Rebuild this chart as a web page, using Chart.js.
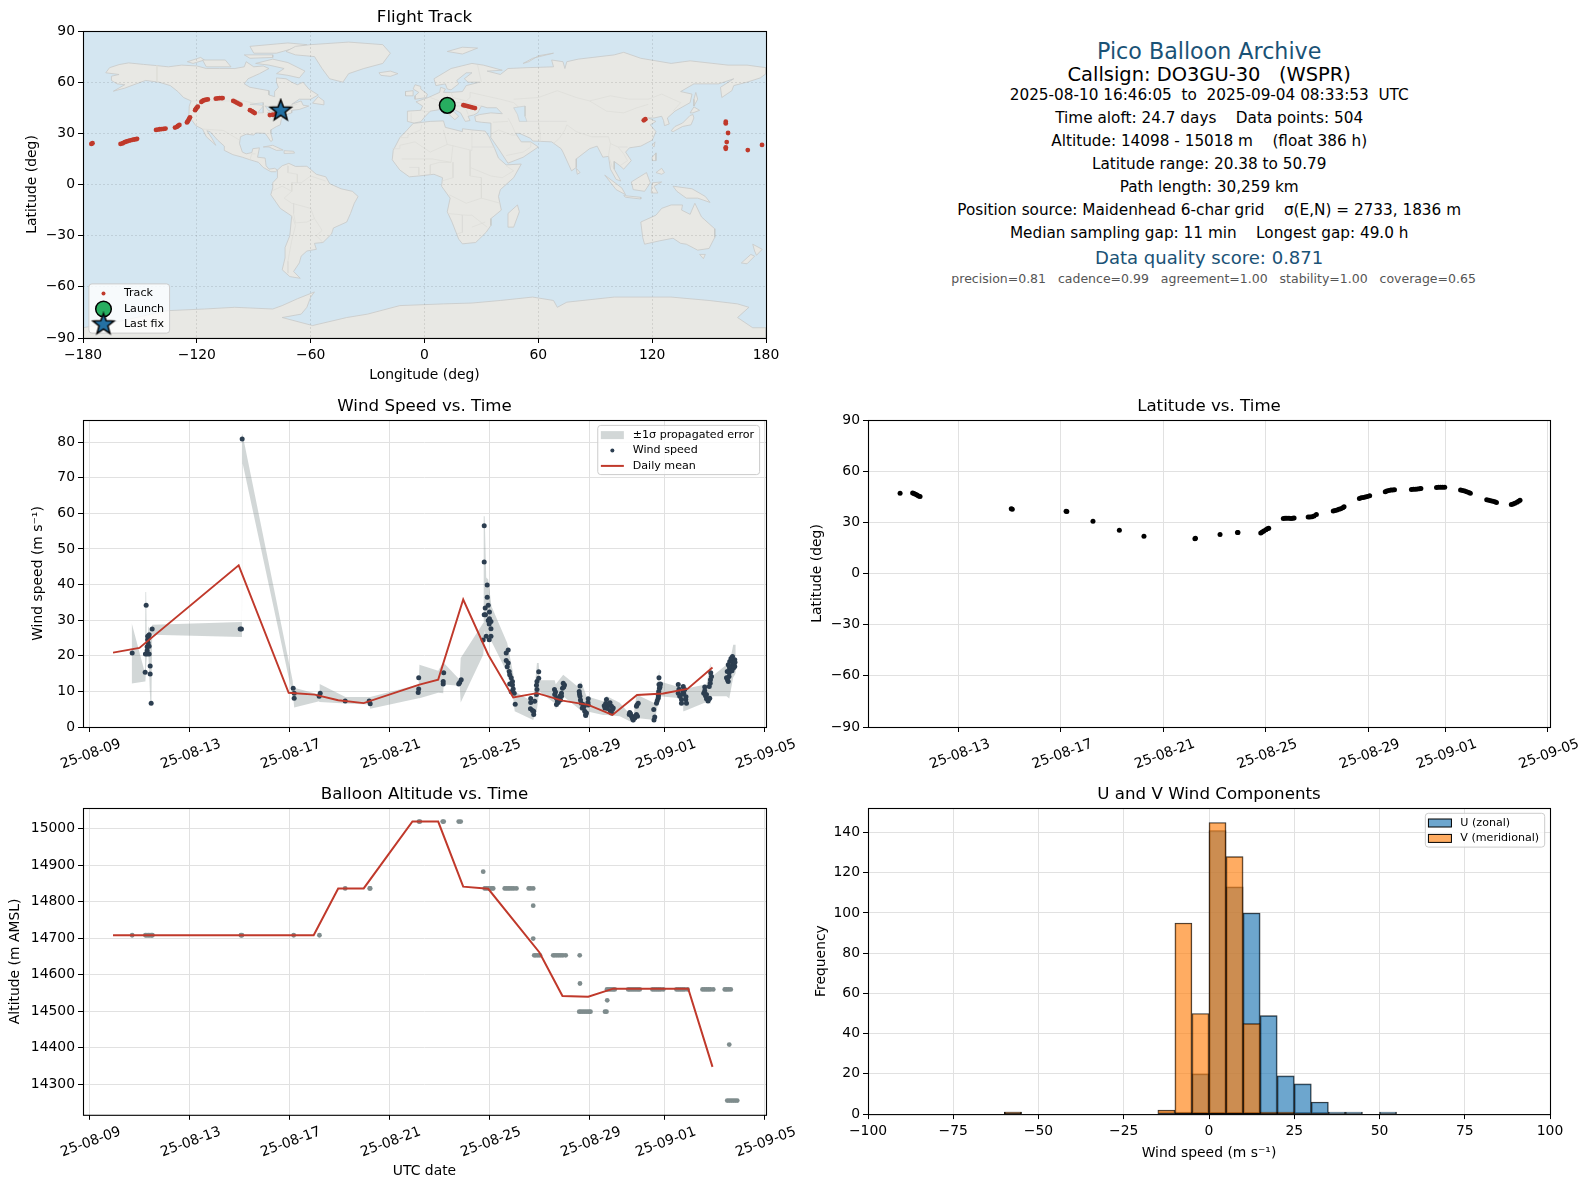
<!DOCTYPE html>
<html>
<head>
<meta charset="utf-8">
<title>Pico Balloon Archive</title>
<script src="https://cdn.jsdelivr.net/npm/chart.js@4"></script>
<style>
  body { margin: 0; background: #fff; width: 1589px; height: 1189px; overflow: hidden; position: relative; font-family: "DejaVu Sans", sans-serif; }
  canvas { position: absolute; }
  .info { position: absolute; left: 1209.2px; transform: translate(-50%, -50%); white-space: pre; color: #000; font-size: 15.28px; }
</style>
</head>
<body>

<canvas id="mapChart"></canvas>
<canvas id="windChart"></canvas>
<canvas id="latChart"></canvas>
<canvas id="altChart"></canvas>
<canvas id="histChart"></canvas>

<div class="info" style="top:51px;font-size:22.2px;color:#1a5276">Pico Balloon Archive</div>
<div class="info" style="top:74px;font-size:19.44px">Callsign: DO3GU-30   (WSPR)</div>
<div class="info" style="top:95px">2025-08-10 16:46:05  to  2025-09-04 08:33:53  UTC</div>
<div class="info" style="top:118px">Time aloft: 24.7 days    Data points: 504</div>
<div class="info" style="top:140.5px">Altitude: 14098 - 15018 m    (float 386 h)</div>
<div class="info" style="top:163.5px">Latitude range: 20.38 to 50.79</div>
<div class="info" style="top:186.7px">Path length: 30,259 km</div>
<div class="info" style="top:210px">Position source: Maidenhead 6-char grid    σ(E,N) = 2733, 1836 m</div>
<div class="info" style="top:233px">Median sampling gap: 11 min    Longest gap: 49.0 h</div>
<div class="info" style="top:257px;font-size:18.06px;color:#1a5276">Data quality score: 0.871</div>
<div class="info" style="top:277.5px;left:1213.6px;font-size:12.5px;color:#555">precision=0.81   cadence=0.99   agreement=1.00   stability=1.00   coverage=0.65</div>

<script>
// ================= TICKS =================
// x axis of the time panels is "days since 25-08-09"
const dateTickDays = [0, 4, 8, 12, 16, 20, 23, 27];
const dateTickLabels = ["25-08-09", "25-08-13", "25-08-17", "25-08-21", "25-08-25", "25-08-29", "25-09-01", "25-09-05"];
const lonTicks = [-180, -120, -60, 0, 60, 120, 180];
const latTicks = [-90, -60, -30, 0, 30, 60, 90];
const windTicks = [0, 10, 20, 30, 40, 50, 60, 70, 80];
const altTicks = [14300, 14400, 14500, 14600, 14700, 14800, 14900, 15000];
const histXTicks = [-100, -75, -50, -25, 0, 25, 50, 75, 100];
const histYTicks = [0, 20, 40, 60, 80, 100, 120, 140];

// ================= TRACK =================
const trackLon = [-175.6, -175, -160.2, -159, -158, -157, -156, -155, -154, -153, -152, -151.5,
  -141.5, -140.5, -139.5, -138.5, -137.5, -136.5, -131.5, -130.5, -130, -129.2,
  -125.2, -124.8, -124.4, -124, -123.6, -120.9, -120.5, -120, -119.5,
  -117.6, -117, -116.2, -115.2, -114.2, -110, -109, -108, -107, -106.4,
  -100.8, -100, -99, -98, -97, -92, -91, -90.2, -89.5, -81.5, -80, -78.5, -77, -76,
  20.5, 21.5, 22.5, 23.5, 24.5, 25.5, 26.6,
  115.6, 116.4, 158.8, 158.8, 160, 159.3, 158.8, 158.8, 170.4, 177.9];
const trackLat = [23.8, 24.2, 23.8, 24.2, 24.8, 25.2, 25.6, 25.9, 26.2, 26.4, 26.6, 26.8,
  32, 32.2, 32.4, 32.5, 32.6, 32.8, 33.4, 33.8, 34.3, 34.9,
  36.4, 37, 37.8, 38.6, 39.4, 43.6, 44.4, 45, 45.6,
  48.4, 49, 49.4, 49.7, 49.9, 50.3, 50.5, 50.6, 50.7, 50.7,
  49, 48.6, 48, 47.4, 46.8, 43.6, 43, 42.4, 41.9, 40.7, 40.9, 41.2, 41.6, 42.2,
  46.5, 46.2, 46, 45.7, 45.4, 45.1, 44.8,
  37.6, 38.3, 36.8, 35.8, 30.2, 24.9, 21.8, 20.9, 20.2, 23.2];
const launchLon = [12];
const launchLat = [46.4];
const lastFixLon = [-75.8];
const lastFixLat = [43.3];

// ================= LAND OUTLINES (lon, lat) =================
const northAmerica = [[-168,65.5],[-166,68.5],[-161,70.3],[-156,71.3],[-148,70.4],[-141,69.7],[-135,69],[-128,70],[-120,69.5],[-115,68],[-108,68],[-100,68],[-95,69],[-94,72],[-90,69],[-85,69.5],[-82,68],[-87,65],[-93,62],[-95,59],[-92,57],[-87,56],[-82,55],[-82,52.5],[-79,51.5],[-79,54.5],[-77,57],[-78,60],[-78,62.5],[-73,62],[-70,60],[-67,58.5],[-64,60],[-61,56],[-56,52.5],[-60,50],[-66,50],[-70,47],[-65,49],[-64,46.5],[-61,46],[-66,44],[-70,43.5],[-70,42],[-74,40.5],[-75.5,38],[-76,35],[-78,34],[-81,32],[-81,30],[-80,26],[-81,25.2],[-82.7,28],[-84,30],[-89,30.2],[-90,29],[-94,29.5],[-97,28],[-97.5,24],[-96,19],[-94,18],[-91,18.7],[-90.5,21],[-87,21.5],[-88,16],[-84,15.5],[-83.5,11],[-82,9],[-79,9.5],[-77.5,8.5],[-78.5,7.5],[-81,7.5],[-85,10],[-87.5,13],[-92,14.5],[-96,16],[-101,17.5],[-105.5,20],[-105.5,22.5],[-109,26],[-113,31],[-114.7,31.5],[-112,27],[-110,23],[-112,25],[-115,28],[-117,32.5],[-120.5,34.5],[-122.5,37.5],[-124.2,40.5],[-124,46],[-123,49],[-127,51],[-130,54.5],[-134,58],[-140,60],[-147,61],[-152,59],[-158,56.5],[-164,54.7],[-158,58.5],[-162,59],[-165,61],[-165,63.5],[-161,64.5],[-168,65.5]];
const greenland = [[-73,78],[-68,81],[-60,82],[-40,83.5],[-22,82],[-18,77],[-22,71],[-32,68],[-40,65],[-43,60],[-50,62],[-54,68],[-58,75],[-68,76],[-73,78]];
const baffin = [[-80,73.5],[-72,71.5],[-63,66.5],[-66,62.5],[-72,64],[-78,65],[-74,68],[-82,70],[-89,71],[-80,73.5]];
const ellesmere = [[-90,77],[-78,77],[-62,82],[-72,83],[-92,81],[-90,77]];
const victoriaIsland = [[-117,73],[-105,73],[-102,69],[-115,69],[-117,73]];
const banksIsland = [[-125,72],[-118,74.5],[-116,73],[-122,71],[-125,72]];
const devonIsland = [[-95,76],[-80,76],[-80,74.5],[-92,74],[-95,76]];
const newfoundland = [[-59,47.7],[-53,46.7],[-53,49],[-56,51.5],[-59,47.7]];
const cuba = [[-85,22],[-80,23],[-74.5,20.2],[-78,20],[-82,22],[-85,22]];
const hispaniola = [[-74,19.8],[-69,19.5],[-68.5,18.4],[-74,18.2],[-74,19.8]];
const southAmerica = [[-77.5,8.5],[-75,11],[-71.5,12.4],[-68,10.6],[-62,10.7],[-57,6],[-52,4.5],[-50,0.5],[-44,-2.5],[-38,-4],[-35,-7],[-37,-11],[-39,-17],[-41,-22],[-48,-25.5],[-49,-29],[-53.5,-34],[-58,-34.5],[-57,-38],[-62,-39],[-65,-42],[-66,-46],[-69,-51],[-65.5,-55],[-71,-54],[-75,-50],[-73.5,-43],[-73.5,-37],[-71,-30],[-70,-18.5],[-76,-14],[-81,-6],[-80,-2],[-80,1],[-77.5,4],[-77.5,8.5]];
const africa = [[-6,35.8],[3,37],[10,37.3],[11,33.5],[20,31],[20,32.7],[25,32],[32,31.3],[34,28],[37,21],[39,15.5],[43,11.5],[51,12],[47,4],[40,-3],[39,-7],[40.5,-15],[35,-20],[35,-24],[32.5,-28],[27,-34],[20,-34.8],[18,-32],[14.5,-22],[12,-16],[13.5,-8],[9,-1],[9.5,4],[5,6],[-3,5],[-8,4.5],[-13,8.5],[-17,14.5],[-16.5,20],[-13,27.5],[-9.5,31.5],[-6,35.8]];
const eurasia = [[-9,37],[-9,43],[-2,43.5],[-1,46],[-4.5,48.5],[2,51],[8,54],[8.5,57],[11,56],[10,54],[14,54],[20,54.5],[22,58],[29,60],[23,60],[21,62],[25,65.5],[22,65.5],[17,61],[18,59],[14,55.5],[12,56],[11,59],[6,58],[5,62],[14,68],[25,71],[31,70],[41,67],[33,66.5],[40,64.5],[44,68],[54,68.5],[68,69],[67,73],[73,72],[74,68],[75,72],[81,73.5],[100,76],[105,77.5],[114,74],[130,71],[140,72.5],[160,70],[170,70],[180,68.5],[180,65],[177,62.5],[170,60],[163,58],[162,55],[156.7,51],[156,57],[163,62],[155,59],[142,59],[135,54.5],[141,53],[140,48],[132,43],[128,39],[129,35.5],[126.5,34.5],[126,37.5],[125,40],[121,39],[118,39],[122,37],[119,35],[122,31],[120,26],[114,22.5],[108,21.5],[106,19],[109,14],[105,9],[103,11],[100,13.5],[100,9],[103.5,2],[101,3],[98,9],[97,16.5],[94,16],[91,22.5],[87,21],[80,15],[80,10],[77.5,8],[73,19],[72,21],[67,25],[57,25.5],[56,27],[50,30],[48,30],[51,25],[56,25],[60,22],[52,16],[44,12.5],[39,21],[34.7,28],[35,36],[30,36.5],[27,37],[26.5,40],[29,41],[35,42],[41,41.5],[38,45],[33,45],[30,46],[28,42],[26,40.8],[23,40],[24,37.5],[21.5,37],[19,42],[13,45.5],[18,40],[16,38],[12,42],[8.5,44],[3,43],[0,39.5],[-2,36.8],[-5.5,36],[-9,37]];
const britain = [[-5,50],[1,51],[1.5,53],[-2,56],[-2,57.5],[-5,58.5],[-6,56],[-3,54],[-5,52],[-5,50]];
const ireland = [[-10,52],[-6,52],[-6,55],[-10,54.5],[-10,52]];
const iceland = [[-24,65.5],[-18,66.5],[-14,65],[-18,63.4],[-23,64],[-24,65.5]];
const svalbard = [[12,78],[20,80.5],[28,80],[20,76.5],[12,78]];
const novayaZemlya = [[52,71],[57,74],[68,77],[60,75.5],[55,72],[52,71]];
const sakhalin = [[142,46],[144,50],[143,54],[142,50],[142,46]];
const honshu = [[130,31.5],[132,34],[136,36],[140,40.5],[141.5,41],[142,39],[140.5,35],[136,34],[131,31],[130,31.5]];
const hokkaido = [[140,42],[142,45.5],[145,43.5],[141.5,42],[140,42]];
const taiwan = [[120,23],[121.5,25],[121,22],[120,23]];
const luzon = [[120,16],[122,18.5],[122,14],[120,14],[120,16]];
const mindanao = [[122,7],[125,9.5],[126.5,7],[125,6],[122,7]];
const sumatra = [[95,5.5],[104,-2],[106,-6],[101,-3],[95,5.5]];
const java = [[105,-6.5],[114,-7.5],[114,-8.5],[106,-7.5],[105,-6.5]];
const borneo = [[109,1.5],[117,7],[119,1],[116,-4],[110,-3],[109,1.5]];
const sulawesi = [[119.5,-5],[120,1],[125,1.5],[121,-1],[123,-5],[119.5,-5]];
const newGuinea = [[131,-1],[141,-2.5],[148,-7],[150.5,-10.5],[144,-8],[138,-8],[133,-4],[131,-1]];
const australia = [[114,-22],[122,-18],[125,-14],[130,-12],[136,-12],[135.5,-15],[140,-17.5],[142.5,-11],[146,-19],[153,-26],[153,-31],[150,-37.5],[144,-38.5],[138,-35],[135,-34.5],[131,-31.5],[124,-33],[116,-35],[115,-31],[114,-22]];
const tasmania = [[145,-41],[148,-41],[147,-43.5],[145,-41]];
const nzNorth = [[173,-35],[178,-38],[175,-41.5],[174,-39],[173,-35]];
const nzSouth = [[172,-41],[174,-42],[170,-46.5],[167,-46],[172,-41]];
const madagascar = [[49,-12],[50,-16],[47,-25],[44,-25],[44,-17],[49,-12]];
const sriLanka = [[80,9.5],[82,7],[80.5,6],[80,9.5]];
const antarctica = [[-180,-84],[-160,-80],[-136,-74],[-116,-73],[-100,-72],[-80,-73],[-75,-71],[-67,-67],[-58,-63],[-60,-66],[-62,-72],[-65,-76],[-75,-78],[-59,-82.7],[-41,-78],[-30,-76],[-13,-71],[10,-70],[25,-69.5],[40,-68],[57,-66],[68,-68],[70,-72],[75,-69],[100,-66],[130,-66],[150,-68],[165,-70],[171,-72],[165,-78],[173,-84],[180,-84],[180,-90],[-180,-90],[-180,-84]];
const landShapes = [northAmerica, greenland, baffin, ellesmere, victoriaIsland, banksIsland, devonIsland, newfoundland, cuba, hispaniola,
  southAmerica, africa, eurasia, britain, ireland, iceland, svalbard, novayaZemlya, sakhalin, honshu, hokkaido, taiwan, luzon, mindanao,
  sumatra, java, borneo, sulawesi, newGuinea, australia, tasmania, nzNorth, nzSouth, madagascar, sriLanka, antarctica];

const caspian = [[47,45],[53,46],[53,40],[54,37],[50,37],[49,41],[47,45]];
const superior = [[-92,47],[-85,48],[-85,46.5],[-92,47]];
const michigan = [[-88,42],[-85,46],[-85,42],[-88,42]];
const huron = [[-84,46],[-80,45],[-82,43],[-84,46]];
const erieOntario = [[-83,42],[-76,44],[-79,43],[-83,42]];
const lakeShapes = [caspian, superior, michigan, huron, erieOntario];

const borderLines = [
  [[-123,49],[-95,49],[-84,46],[-75,45],[-67,47]], [[-141,70],[-141,60]], [[-117,32.5],[-106,31.7],[-97.5,26]], [[-92,14.5],[-91,18],[-89,18]],
  [[-52,2],[-60,5],[-65,1],[-70,1],[-70,-4],[-74,-8],[-70,-11],[-60,-14],[-58,-20],[-55,-25],[-54,-27],[-57,-30],[-53.5,-34]],
  [[-70,-18],[-68,-24],[-70,-33],[-72,-45],[-72,-52]], [[-72,11],[-72,7],[-67,6],[-67,1]], [[-80,-3.5],[-75,-1],[-70,-4]], [[-69,-11],[-69,-17],[-68,-22.5],[-62,-22],[-58,-20]],
  [[-13,27.5],[-8.7,27.5],[-8.7,29],[-2,32],[-1.5,35]], [[-17,21],[-13,21],[-13,23],[-5,25],[3,19],[12,23.5],[10,32]], [[12,23.5],[25,20],[25,31.5]], [[25,22],[37,22]],
  [[24,20],[24,10],[35,5],[41,4],[47,8],[43,11]], [[15,23],[14,13],[8,13],[3,11.5],[3,6]], [[-12,15],[-5,15],[4,15],[14,13]], [[-8,10],[-3,10],[-3,5]], [[15,13],[15,4],[9,2]],
  [[24,10],[24,5],[30,4],[30,-8],[22,-11],[13,-6]], [[30,-8],[40,-11]], [[12,-17],[22,-18],[25,-18],[33,-25]], [[20,-18],[20,-28],[17,-29]], [[25,-25],[32,-22]],
  [[28,70],[30,60]], [[24,54],[32,52],[40,50],[47,48],[50,45]], [[47,50],[60,51],[70,55],[80,51],[87,49]], [[87,49],[98,52],[108,50],[118,50],[125,53],[135,48],[131,43]],
  [[87,49],[96,43],[105,42],[112,45],[118,47]], [[75,35],[80,31],[88,28],[97,28],[98,24],[102,22],[107,22]], [[61,25],[61,30],[60,37]], [[54,37],[60,37],[66,37],[75,37]],
  [[68,24],[71,27],[74,32],[75,35]], [[48,30],[46,35],[44,39]], [[36,36.5],[44,37]], [[35,29.5],[39,32],[46,29],[48,29]], [[52,19],[56,22],[56,25]], [[43,17],[52,19]],
  [[-1.7,43.3],[3,42.5]], [[-7,37],[-7,42]], [[3,51],[8,49],[7.5,44]], [[14,54],[15,51],[22,49],[24,51],[24,54]], [[9,47.5],[17,48],[22,48],[30,46]], [[13.5,46],[19,46],[22,44],[23,41]],
  [[98,24],[97,17],[99,10]], [[102,22],[105,18],[107,14],[103,11]]
];

// ================= WIND =================
const windDays = [1.71, 2.27, 2.23, 2.24, 2.31, 2.39, 2.31, 2.31, 2.39, 2.35, 2.33, 2.33, 2.39, 2.36, 2.51, 2.43, 2.43, 2.47,
  6.03, 6.08, 6.11, 8.15, 8.19, 8.19, 9.19, 9.23, 10.23, 11.19, 11.23, 13.17, 13.15, 13.17,
  14.17, 14.15, 14.15, 14.87, 14.81, 14.77,
  15.79, 15.79, 15.91, 15.91, 15.83, 15.95, 16, 15.79, 15.84, 16, 15.95, 16.06, 15.99, 16.06, 15.75, 15.87, 15.99, 16.06,
  16.75, 16.67, 16.67, 16.75, 16.71, 16.79, 16.81, 16.87, 16.92, 16.81, 16.92, 16.95, 16.87, 16.99, 17.03,
  17.65, 17.65, 17.81, 17.64, 17.72, 17.77, 17.77, 17.88, 17.9, 17.88, 17.9, 17.97, 17.97,
  18.6, 18.61, 18.68, 18.68, 18.75, 18.81, 18.88, 18.92, 18.95, 19, 18.75, 18.88, 18.64, 18.72, 18.84, 18.97,
  19.62, 19.59, 19.62, 19.67, 19.75, 19.71, 19.81, 19.85, 19.95, 19.95, 19.88, 19.6, 19.64, 19.78, 19.85, 19.94,
  20.68, 20.59, 20.75, 20.88, 20.95, 20.84, 20.88, 20.62, 20.65, 20.72, 20.82, 20.92,
  21.61, 21.68, 21.75, 21.81, 21.88, 21.95, 21.88, 21.59, 21.64, 21.72, 21.78, 21.9, 21.92, 21.84,
  22.57, 22.61, 22.58, 22.68, 22.75, 22.77, 22.78, 22.78, 22.84, 22.75, 22.71, 22.8, 22.82, 22.76,
  23.55, 23.55, 23.61, 23.68, 23.75, 23.77, 23.85, 23.88, 23.68, 23.81, 23.58, 23.72, 23.74, 23.86,
  24.61, 24.57, 24.68, 24.81, 24.76, 24.79, 24.84, 24.85, 24.88, 24.61, 24.64, 24.68, 24.74, 24.83,
  25.72, 25.81, 25.61, 25.55, 25.81, 25.68, 25.51, 25.59, 25.48, 25.55, 25.75, 25.61, 25.78, 25.65, 25.58, 25.72, 25.66, 25.76, 25.52, 25.7, 25.82, 25.6];
const windSpeed = [20.8, 34.2, 15.4, 20.5, 20.5, 20.5, 21.5, 22.5, 22.7, 23.6, 24.5, 25.5, 25.9, 25, 27.5, 17.1, 14.9, 6.7,
  27.5, 27.5, 80.9, 10.9, 9.5, 8.1, 8.6, 9.5, 7.3, 7.3, 6.5, 13.8, 9.7, 10.7,
  15.2, 12.8, 12.1, 13.3, 12.5, 12.1,
  56.5, 46.3, 39.9, 36.4, 33.4, 34.2, 32.3, 31.5, 31.5, 30.4, 29.9, 29.6, 28.9, 27.6, 24.4, 25.5, 24.5, 25.5,
  21.6, 20.8, 18.7, 18, 16.9, 15.6, 14.7, 13.8, 12.8, 12.1, 11.8, 10.7, 9.9, 9.5, 6.4,
  8, 6.9, 7.2, 5.1, 4.6, 3.5, 4.4, 9.1, 10.5, 11.7, 12.8, 13.7, 15.5,
  10.5, 9.1, 8.1, 6.3, 6.9, 8.6, 9.5, 10.9, 12.3, 11.8, 7.7, 8.6, 9.8, 7.2, 7.6, 11.2,
  11.5, 10, 8.6, 6.7, 6.3, 5.3, 4.4, 3.5, 7.9, 6.2, 3.9, 9.3, 7.6, 5.7, 3.2, 6.9,
  7.7, 6, 6.2, 5.8, 5.3, 4.4, 3.9, 5.3, 6.6, 5.2, 6.8, 4.9,
  4.1, 3, 2, 2.5, 3.5, 6.7, 5.8, 3.5, 3.7, 2.4, 2.8, 6.2, 3, 3.1,
  4.9, 2.8, 2, 6.7, 8.1, 10, 11.9, 13.8, 12.1, 9.1, 7.4, 10.9, 11.2, 8.7,
  11.9, 9.5, 8.6, 7.7, 11.4, 9.5, 7.7, 6.7, 6.7, 10.5, 10.6, 9.2, 10.2, 8.5,
  11.2, 9.5, 9.1, 8.1, 7.7, 11.4, 13.3, 15.2, 14.2, 10.2, 8.8, 7.9, 7.3, 12.3,
  19.8, 18.9, 18.4, 17.5, 17, 17, 15.6, 15.2, 13.8, 12.8, 18, 16.5, 17.5, 16, 14.2, 18.7, 19.2, 16.6, 13.3, 15.8, 18.2, 16.9];

const meanDays = [0.945, 2, 5.97, 7.97, 9.01, 9.95, 10.97, 13.2, 13.95, 14.95, 15.95, 16.95, 17.9, 18.92, 19.95, 20.92, 21.9, 22.95, 23.92, 24.92];
const windMean = [20.9, 22.2, 45.4, 9.6, 9.1, 7.5, 6.7, 11.9, 13.3, 35.8, 20.3, 8.3, 9.5, 7.4, 6.2, 3.4, 9, 9.4, 10.7, 16.7];

const bandDays = [1.69, 2.22, 2.24, 2.27, 2.3, 2.36, 2.44, 2.48, 2.51, 6.07, 6.1, 6.13, 8.13, 8.15, 8.19, 9.19, 9.21, 10.24, 11.19, 11.23, 13.17, 13.2, 13.95, 14.15, 14.17, 14.81, 14.85,
  15.75, 15.77, 15.81, 15.87, 15.95, 16.08, 16.71, 16.95, 17.01, 17.75, 17.9, 17.97, 18.01, 18.61, 18.65, 18.95, 19.61, 19.66, 19.88, 20.55, 20.68, 21.21, 21.75, 21.88, 22.61, 22.79, 22.81, 23.75, 23.78, 24.68, 24.84, 24.86, 25.48, 25.59, 25.75, 25.85];
const bandHigh = [29.2, 15.2, 37.9, 37.9, 22, 28.3, 27, 27, 28.7, 29.5, 82.4, 82, 13, 11, 11, 9.1, 12.1, 8.4, 8.4, 8.4, 11.9, 17.5, 15.8, 18.2, 18.2, 13.3, 19.4,
  29.2, 59.2, 59.2, 42, 41.4, 33.9, 23.6, 15, 10, 7, 18, 18, 13.1, 13.1, 12, 14.7, 10.9, 13, 8.6, 7.2, 8.7, 6.8, 2.5, 9.1, 6.7, 16, 12.8, 10.9, 10.7, 12, 18, 14, 17.5, 17.5, 23.1, 23.1];
const bandLow = [12.2, 12.8, 12.8, 17, 20, 20, 6.2, 6.2, 25.9, 25.3, 25.3, 74, 8.7, 8.5, 5.5, 7.2, 7, 6.6, 6.3, 5.1, 8.1, 8.1, 9.6, 9.5, 11.9, 11.6, 6.9,
  20.3, 22, 27, 25, 24.5, 24, 15.2, 8, 4.4, 2, 5, 9, 9.9, 6.7, 5, 8.6, 4.9, 4.5, 4.4, 3.4, 3.4, 3, 1.1, 2.5, 2, 8, 8.6, 8, 4.4, 7, 6.5, 8.6, 8.6, 8, 14, 15];

// ================= LATITUDE =================
const latDays = [1.72, 2.21, 2.26, 2.32, 2.38, 2.44, 2.5, 6.06, 6.1, 8.2, 8.23, 9.25, 10.28, 11.24, 13.23, 13.25, 14.21, 14.89, 14.91,
  15.8, 15.86, 15.92, 16, 16.06, 16.11, 16.68, 16.75, 16.82, 16.9, 16.98, 17.05, 17.1, 17.65, 17.72, 17.8, 17.88, 17.97,
  18.63, 18.7, 18.78, 18.85, 18.92, 19, 19.05, 19.65, 19.72, 19.8, 19.88, 19.96, 20.05, 20.66, 20.72, 20.8, 20.88, 20.95, 21.02,
  21.68, 21.76, 21.84, 21.92, 22, 22.05, 22.66, 22.74, 22.82, 22.9, 22.98, 23.6, 23.68, 23.76, 23.84, 23.92, 23.98,
  24.62, 24.7, 24.78, 24.86, 24.94, 25, 25.58, 25.65, 25.72, 25.8, 25.86, 25.92];
const latValues = [47.1, 47.2, 46.9, 46.4, 46, 45.5, 45.2, 37.9, 37.6, 36.5, 36.4, 30.6, 25.3, 21.8, 20.4, 20.6, 22.9, 24.1, 24.1,
  23.7, 24.4, 24.9, 25.7, 26.2, 26.6, 32.3, 32.4, 32.4, 32.4, 32.3, 32.4, 32.5, 33.2, 33.2, 33.3, 33.7, 34.6,
  36.6, 37, 37.3, 37.6, 38, 38.6, 39.2, 44, 44.4, 44.6, 44.9, 45.2, 45.6, 47.9, 48.3, 48.6, 48.9, 49, 49.1,
  49.3, 49.4, 49.4, 49.5, 49.7, 49.9, 50.4, 50.5, 50.6, 50.6, 50.6, 48.9, 48.6, 48.3, 48, 47.5, 47.1,
  43.2, 42.9, 42.6, 42.4, 42, 41.6, 40.5, 40.8, 41.2, 41.8, 42.3, 42.9];

// ================= ALTITUDE =================
const altDays = [1.71, 2.24, 2.3, 2.36, 2.42, 2.48, 2.52, 6.06, 6.1, 8.17, 9.2, 10.23, 11.21, 11.23, 13.18, 13.22, 14.13, 14.17, 14.77, 14.85,
  15.75, 15.81, 15.88, 15.95, 16.02, 16.1, 16.15, 16.61, 16.68, 16.75, 16.82, 16.9, 16.98, 17.08, 17.57, 17.65, 17.75, 17.75, 17.75,
  17.79, 17.86, 17.94, 18.02, 18.55, 18.62, 18.7, 18.78, 18.86, 18.94, 19.05, 19.61, 19.62, 19.59, 19.66, 19.74, 19.82, 19.9, 19.98, 20.04,
  20.62, 20.68, 20.71, 20.7, 20.78, 20.86, 20.94, 21.01, 21.55, 21.62, 21.7, 21.78, 21.86, 21.94, 22.01,
  22.52, 22.6, 22.68, 22.76, 22.84, 22.95, 23.48, 23.56, 23.64, 23.72, 23.8, 23.92, 24.52, 24.6, 24.68, 24.76, 24.84, 24.95,
  25.41, 25.48, 25.56, 25.65, 25.59, 25.51, 25.59, 25.67, 25.75, 25.83, 25.91];
const altValues = [14708, 14708, 14708, 14708, 14708, 14708, 14708, 14708, 14708, 14708, 14708, 14836, 14836, 14836, 15019, 15019, 15019, 15019, 15019, 15019,
  14882, 14836, 14836, 14836, 14836, 14836, 14836, 14836, 14836, 14836, 14836, 14836, 14836, 14836, 14836, 14836, 14836, 14789, 14699,
  14653, 14653, 14653, 14653, 14653, 14653, 14653, 14653, 14653, 14653, 14653, 14653, 14576, 14499, 14499, 14499, 14499, 14499, 14499, 14499,
  14499, 14499, 14530, 14560, 14560, 14560, 14560, 14560, 14560, 14560, 14560, 14560, 14560, 14560, 14560,
  14560, 14560, 14560, 14560, 14560, 14560, 14560, 14560, 14560, 14560, 14560, 14560, 14560, 14560, 14560, 14560, 14560, 14560,
  14560, 14560, 14560, 14560, 14409, 14256, 14256, 14256, 14256, 14256, 14256];
const altMean = [14708, 14708, 14708, 14708, 14836, 14836, 15019, 15019, 14841, 14835, 14661, 14542, 14540, 14562, 14562, 14562, 14562, 14348];
const altMeanDays = [0.945, 2, 5.97, 8.97, 9.95, 10.97, 12.92, 13.95, 14.95, 15.95, 18, 18.92, 19.95, 20.95, 21.9, 22.95, 23.95, 24.92];

// ================= HISTOGRAM =================
const binCenters = [-57.5, -12.5, -7.5, -2.5, 2.5, 7.5, 12.5, 17.5, 22.5, 27.5, 32.5, 37.5, 42.5, 52.5];
const uCounts = [1, 0, 1, 20, 141, 113, 100, 49, 19, 15, 6, 1, 1, 1];
const vCounts = [1, 2, 95, 50, 145, 128, 45, 1, 1, 0, 0, 0, 0, 0];

// ================= HELPERS =================
Chart.defaults.font.family = '"DejaVu Sans", sans-serif';
Chart.defaults.font.size = 13.9;
Chart.defaults.color = "#000";
Chart.defaults.animation = false;

const RED = "#c0392b";
const BAND = "rgba(127,140,141,0.35)";
const NAVY = "#2c3e50";
const GRID = "#e1e1e1";

function pts(xs, ys) {
  return xs.map((x, i) => ({ x, y: ys[i] }));
}

function pairs(list) {
  return list.map(p => ({ x: p[0], y: p[1] }));
}

// filled star used for the last fix, the built-in "star" is just crossed lines
function makeStar(r, fill) {
  const c = document.createElement("canvas");
  c.width = c.height = 2 * r + 4;
  const g = c.getContext("2d");
  g.beginPath();
  for (let i = 0; i < 10; i++) {
    const rad = i % 2 ? r * 0.42 : r;
    const a = -Math.PI / 2 + i * Math.PI / 5;
    g.lineTo(r + 2 + rad * Math.cos(a), r + 2 + rad * Math.sin(a));
  }
  g.closePath();
  g.fillStyle = fill;
  g.fill();
  g.lineWidth = 1.5;
  g.strokeStyle = "#000";
  g.stroke();
  return c;
}
const starImage = makeStar(11, "#2471a3");

// background of the plot and the black frame round it
function framePlugin(background) {
  return {
    id: "frame",
    beforeDraw(chart) {
      if (!background) return;
      const { ctx, chartArea: a } = chart;
      ctx.save();
      ctx.fillStyle = background;
      ctx.fillRect(a.left, a.top, a.width, a.height);
      ctx.restore();
    },
    afterDraw(chart) {
      const { ctx, chartArea: a } = chart;
      ctx.save();
      ctx.strokeStyle = "#000";
      ctx.lineWidth = 1.1;
      ctx.strokeRect(a.left + 0.5, a.top + 0.5, a.width, a.height);
      ctx.restore();
    }
  };
}

// legend inside the axes, like a matplotlib one
function boxLegend(rows, corner, dx, dy) {
  return {
    id: "boxLegend",
    afterDraw(chart) {
      const { ctx, chartArea: a } = chart;
      ctx.save();
      ctx.font = '11.1px "DejaVu Sans"';
      const tw = Math.max(...rows.map(r => ctx.measureText(r.text).width));
      const w = 35 + tw + 5.5;
      const h = rows.length * 15.4 + 3;
      const left = corner === "tr" ? a.right - dx - w : a.left + dx;
      const top = corner === "tr" ? a.top + dy : a.bottom - dy - h;

      ctx.beginPath();
      ctx.roundRect(left, top, w, h, 3);
      ctx.fillStyle = "rgba(255,255,255,0.8)";
      ctx.fill();
      ctx.strokeStyle = "#ccc";
      ctx.lineWidth = 1;
      ctx.stroke();

      rows.forEach((r, i) => {
        const y = top + 2 + (i + 0.5) * 15.4;
        const mx = left + 14.6;
        if (r.mark === "patch") {
          ctx.fillStyle = r.color;
          ctx.fillRect(mx - 11.5, y - 4, 23, 8);
          if (r.edge) {
            ctx.strokeStyle = r.edge;
            ctx.strokeRect(mx - 11.5, y - 4, 23, 8);
          }
        } else if (r.mark === "line") {
          ctx.strokeStyle = r.color;
          ctx.lineWidth = 2;
          ctx.beginPath();
          ctx.moveTo(mx - 11.5, y);
          ctx.lineTo(mx + 11.5, y);
          ctx.stroke();
        } else if (r.mark === "star") {
          ctx.drawImage(starImage, mx - starImage.width / 2, y - starImage.height / 2);
        } else {
          ctx.beginPath();
          ctx.arc(mx, y, r.radius, 0, Math.PI * 2);
          ctx.fillStyle = r.color;
          ctx.fill();
          if (r.edge) {
            ctx.strokeStyle = r.edge;
            ctx.lineWidth = 1.5;
            ctx.stroke();
          }
        }
        ctx.fillStyle = "#000";
        ctx.textBaseline = "middle";
        ctx.fillText(r.text, left + 35, y);
      });
      ctx.restore();
    }
  };
}

function linearAxis(min, max, tickValues, labels, titleText, padding) {
  return {
    type: "linear",
    min,
    max,
    afterBuildTicks: axis => {
      axis.ticks = tickValues.filter(v => v >= min && v <= max).map(v => ({ value: v }));
    },
    ticks: {
      padding,
      autoSkip: false,
      color: "#000",
      callback: v => labels ? labels[tickValues.indexOf(v)] : String(v).replace("-", "\u2212")
    },
    grid: { color: GRID, tickColor: "#000", tickLength: 5, tickWidth: 1, lineWidth: 1 },
    border: { display: false },
    title: { display: !!titleText, text: titleText, color: "#000", font: { size: 13.9 }, padding: 0 }
  };
}

function dateAxis(min, max, titleText) {
  const axis = linearAxis(min, max, dateTickDays, dateTickLabels, titleText, 3.8);
  axis.ticks.minRotation = 20;
  axis.ticks.maxRotation = 20;
  axis.ticks.labelOffset = 31;
  return axis;
}

// faint dashed grid on top of the map
function mapAxis(axis) {
  axis.grid = { color: "rgba(0,0,0,0.14)", tickColor: "#000", tickLength: 5, tickWidth: 1, lineWidth: 0.7, z: 1 };
  axis.border = { display: false, dash: [2, 2] };
  return axis;
}

// puts a canvas so that the plot area lands exactly on rect, then draws it
function makePanel(id, rect, yWidth, xHeight, cfg, extraPlugins, background) {
  const left = 110, right = 45, top = 28;
  const canvas = document.getElementById(id);
  canvas.style.left = (rect.x - left) + "px";
  canvas.style.top = (rect.y - top) + "px";
  canvas.width = rect.w + left + right;
  canvas.height = rect.h + top + xHeight;

  cfg.options.scales.x.afterFit = s => { s.height = xHeight; };
  cfg.options.scales.y.afterFit = s => { s.width = yWidth; };

  return new Chart(canvas, {
    type: cfg.type,
    data: cfg.data,
    plugins: [framePlugin(background)].concat(extraPlugins || []),
    options: Object.assign({
      responsive: false,
      devicePixelRatio: 1,
      layout: { padding: { left: left - yWidth, right, top: 0, bottom: 0 } },
      plugins: {
        legend: { display: false },
        tooltip: { enabled: false },
        title: {
          display: true,
          fullSize: false,
          text: cfg.title,
          color: "#000",
          font: { size: 16.67, weight: "normal", lineHeight: 1.2 },
          padding: { top: 5, bottom: 3 }
        }
      }
    }, cfg.options)
  });
}

// ================= CHARTS =================
const COL1 = 83, COL2 = 868, COL1W = 683, COL2W = 682;
const ROW1 = 31, ROW2 = 420, ROW3 = 808, ROWH = 307;

function renderMap() {
  const landSets = landShapes.map(s => ({
    data: pairs(s), showLine: true, fill: "shape", pointRadius: 0,
    backgroundColor: "#e8e8e4", borderColor: "#c8c9c8", borderWidth: 0.8
  }));
  const lakeSets = lakeShapes.map(s => ({
    data: pairs(s), showLine: true, fill: "shape", pointRadius: 0,
    backgroundColor: "#d4e6f1", borderColor: "#c8c9c8", borderWidth: 0.6
  }));
  const borderSets = borderLines.map(s => ({
    data: pairs(s), showLine: true, pointRadius: 0, borderColor: "#dcdcd9", borderWidth: 0.7
  }));

  makePanel("mapChart", { x: COL1, y: ROW1, w: COL1W, h: ROWH }, 58.8, 46, {
    type: "scatter",
    title: "Flight Track",
    data: {
      datasets: [
        { data: pts(lastFixLon, lastFixLat), pointStyle: starImage },
        { data: pts(launchLon, launchLat), pointRadius: 7.8, backgroundColor: "#27ae60", borderColor: "#000", borderWidth: 1.5 },
        { data: pts(trackLon, trackLat), pointRadius: 2.4, backgroundColor: RED, borderWidth: 0 },
        ...lakeSets,
        ...borderSets,
        ...landSets
      ]
    },
    options: {
      scales: {
        x: mapAxis(linearAxis(-180, 180, lonTicks, null, "Longitude (deg)", 3.8)),
        y: mapAxis(linearAxis(-90, 90, latTicks, null, "Latitude (deg)", 3))
      }
    }
  }, [boxLegend([
    { text: "Track", mark: "dot", color: RED, radius: 2 },
    { text: "Launch", mark: "dot", color: "#27ae60", edge: "#000", radius: 7.8 },
    { text: "Last fix", mark: "star" }
  ], "bl", 5.9, 4.9)], "#d4e6f1");
}

function renderWind() {
  makePanel("windChart", { x: COL1, y: ROW2, w: COL1W, h: ROWH }, 53.15, 64, {
    type: "scatter",
    title: "Wind Speed vs. Time",
    data: {
      datasets: [
        { data: pts(meanDays, windMean), showLine: true, pointRadius: 0, borderColor: RED, borderWidth: 1.9 },
        { data: pts(windDays, windSpeed), pointRadius: 2.5, backgroundColor: NAVY, borderWidth: 0 },
        { data: pts(bandDays, bandHigh), showLine: true, pointRadius: 0, borderWidth: 0, fill: "+1", backgroundColor: BAND },
        { data: pts(bandDays, bandLow), showLine: true, pointRadius: 0, borderWidth: 0 }
      ]
    },
    options: {
      scales: {
        x: dateAxis(-0.256, 27.06),
        y: linearAxis(0, 86.2, windTicks, null, "Wind speed (m s\u207B\u00B9)", 3)
      }
    }
  }, [boxLegend([
    { text: "\u00B11\u03C3 propagated error", mark: "patch", color: BAND },
    { text: "Wind speed", mark: "dot", color: NAVY, radius: 2 },
    { text: "Daily mean", mark: "line", color: RED }
  ], "tr", 6.4, 5.4)]);
}

function renderLatitude() {
  makePanel("latChart", { x: COL2, y: ROW2, w: COL2W, h: ROWH }, 59.25, 64, {
    type: "scatter",
    title: "Latitude vs. Time",
    data: { datasets: [{ data: pts(latDays, latValues), pointRadius: 2.5, backgroundColor: "#000", borderWidth: 0 }] },
    options: {
      scales: {
        x: dateAxis(0.468, 27.09),
        y: linearAxis(-90, 90, latTicks, null, "Latitude (deg)", 3)
      }
    }
  });
}

function renderAltitude() {
  makePanel("altChart", { x: COL1, y: ROW3, w: COL1W, h: ROWH }, 75.45, 65.2, {
    type: "scatter",
    title: "Balloon Altitude vs. Time",
    data: {
      datasets: [
        { data: pts(altMeanDays, altMean), showLine: true, pointRadius: 0, borderColor: RED, borderWidth: 2 },
        { data: pts(altDays, altValues), pointRadius: 2.4, backgroundColor: "#7f8c8d", borderWidth: 0 }
      ]
    },
    options: {
      scales: {
        x: dateAxis(-0.256, 27.06, "UTC date"),
        y: linearAxis(14217, 15056, altTicks, null, "Altitude (m AMSL)", 3)
      }
    }
  });
}

function renderHistogram() {
  const xAxis = linearAxis(-100, 100, histXTicks, null, "Wind speed (m s\u207B\u00B9)", 3.8);
  xAxis.offset = false;
  xAxis.grid.offset = false;

  makePanel("histChart", { x: COL2, y: ROW3, w: COL2W, h: ROWH }, 55.05, 47.9, {
    type: "bar",
    title: "U and V Wind Components",
    data: {
      datasets: [
        { data: pts(binCenters, uCounts), order: 2, backgroundColor: "rgba(31,119,180,0.65)", borderColor: "rgba(0,0,0,0.8)", borderWidth: 1, borderSkipped: false },
        { data: pts(binCenters, vCounts), order: 1, backgroundColor: "rgba(255,127,14,0.65)", borderColor: "rgba(0,0,0,0.8)", borderWidth: 1, borderSkipped: false }
      ]
    },
    options: {
      datasets: { bar: { grouped: false, barPercentage: 1, categoryPercentage: 1 } },
      scales: {
        x: xAxis,
        y: linearAxis(0, 152.2, histYTicks, null, "Frequency", 3)
      }
    }
  }, [boxLegend([
    { text: "U (zonal)", mark: "patch", color: "rgba(31,119,180,0.65)", edge: "#000" },
    { text: "V (meridional)", mark: "patch", color: "rgba(255,127,14,0.65)", edge: "#000" }
  ], "tr", 5.3, 5.3)]);
}

renderMap();
renderWind();
renderLatitude();
renderAltitude();
renderHistogram();
</script>
</body>
</html>
